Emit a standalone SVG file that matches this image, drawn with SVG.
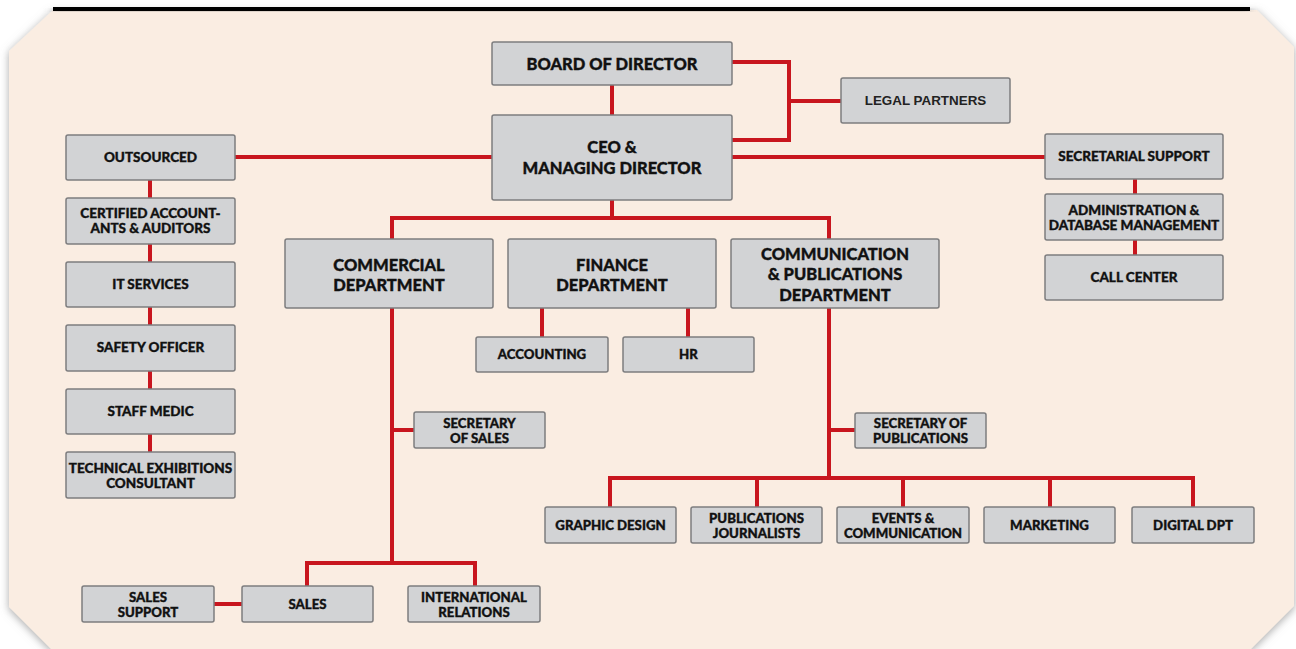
<svg xmlns="http://www.w3.org/2000/svg" width="1296" height="649" viewBox="0 0 1296 649">
<style>
.bx{fill:#d2d3d5;stroke:#7d7d7f;stroke-width:1.5}
.t{font-family:Lato,"Liberation Sans",sans-serif;font-weight:900;fill:#111;stroke:#111;stroke-width:0.35;text-anchor:middle}
.l{font-size:16.5px}
.m{font-size:13.5px}
.s{font-size:13.2px}
.h{font-family:"Liberation Sans",Arial,sans-serif;font-weight:bold;fill:#222;text-anchor:middle;font-size:13.4px}
.c{fill:none;stroke:#c8161e;stroke-width:4}
</style>
<defs>
<filter id="sh" x="-5%" y="-20%" width="110%" height="140%">
<feGaussianBlur in="SourceAlpha" stdDeviation="4"/>
<feOffset dx="0" dy="2" result="b"/>
<feFlood flood-color="#7a7a7a" flood-opacity="0.65"/>
<feComposite in2="b" operator="in"/>
<feMerge><feMergeNode/><feMergeNode in="SourceGraphic"/></feMerge>
</filter>
</defs>
<rect width="1296" height="649" fill="#ffffff"/>
<g id="background">
<path d="M53,10 H1257 L1294,47 V606 L1251,649 H51 L9,607 V51 Z" fill="#faede2" filter="url(#sh)"/>
<rect x="53" y="7" width="1197" height="4" fill="#000" filter="url(#sh)"/>
</g>
<g id="connectors">
<path class="c" d="M612,85 V115"/>
<path class="c" d="M732,62 H789 V140 H732"/>
<path class="c" d="M789,101 H841"/>
<path class="c" d="M235,157 H492"/>
<path class="c" d="M732,157 H1045"/>
<path class="c" d="M612,200 V218"/>
<path class="c" d="M392,239 V218 H829 V239"/>
<path class="c" d="M392,308 V563"/>
<path class="c" d="M307,586 V563 H475 V586"/>
<path class="c" d="M392,430 H414"/>
<path class="c" d="M542,308 V337"/>
<path class="c" d="M688,308 V337"/>
<path class="c" d="M829,308 V478"/>
<path class="c" d="M829,430 H855"/>
<path class="c" d="M610,507 V478 H1193 V507"/>
<path class="c" d="M757,478 V507"/>
<path class="c" d="M903,478 V507"/>
<path class="c" d="M1050,478 V507"/>
<path class="c" d="M214,604 H242" stroke-width="5"/>
<path class="c" d="M150,180 V198 M150,244 V262 M150,307 V325 M150,371 V389 M150,434 V452"/>
<path class="c" d="M1135,179 V194 M1135,240 V255"/>
</g>
<g id="board"><rect class="bx" x="492" y="42" width="240" height="43" rx="2"/><text class="t l" x="612" y="70">BOARD OF DIRECTOR</text></g>
<g id="ceo"><rect class="bx" x="492" y="115" width="240" height="85" rx="2"/><text class="t l" x="612" y="153">CEO &amp;</text><text class="t l" x="612" y="174">MANAGING DIRECTOR</text></g>
<g id="legal"><rect class="bx" x="841" y="78" width="169" height="45" rx="2"/><text class="h" x="925.5" y="105">LEGAL PARTNERS</text></g>
<g id="outsourced"><rect class="bx" x="66" y="135" width="169" height="45" rx="2"/><text class="t m" x="150.5" y="162">OUTSOURCED</text></g>
<g id="certified"><rect class="bx" x="66" y="198" width="169" height="46" rx="2"/><text class="t m" x="150.5" y="218">CERTIFIED ACCOUNT-</text><text class="t m" x="150.5" y="233">ANTS &amp; AUDITORS</text></g>
<g id="it"><rect class="bx" x="66" y="262" width="169" height="45" rx="2"/><text class="t m" x="150.5" y="289">IT SERVICES</text></g>
<g id="safety"><rect class="bx" x="66" y="325" width="169" height="46" rx="2"/><text class="t m" x="150.5" y="352">SAFETY OFFICER</text></g>
<g id="medic"><rect class="bx" x="66" y="389" width="169" height="45" rx="2"/><text class="t m" x="150.5" y="416">STAFF MEDIC</text></g>
<g id="technical"><rect class="bx" x="66" y="452" width="169" height="46" rx="2"/><text class="t m" x="150.5" y="473">TECHNICAL EXHIBITIONS</text><text class="t m" x="150.5" y="488">CONSULTANT</text></g>
<g id="secretarial"><rect class="bx" x="1045" y="134" width="178" height="45" rx="2"/><text class="t m" x="1134" y="161">SECRETARIAL SUPPORT</text></g>
<g id="admin"><rect class="bx" x="1045" y="194" width="178" height="46" rx="2"/><text class="t m" x="1134" y="215">ADMINISTRATION &amp;</text><text class="t m" x="1134" y="230">DATABASE MANAGEMENT</text></g>
<g id="callcenter"><rect class="bx" x="1045" y="255" width="178" height="45" rx="2"/><text class="t m" x="1134" y="282">CALL CENTER</text></g>
<g id="commercial"><rect class="bx" x="285" y="239" width="208" height="69" rx="2"/><text class="t l" x="389" y="271">COMMERCIAL</text><text class="t l" x="389" y="291">DEPARTMENT</text></g>
<g id="finance"><rect class="bx" x="508" y="239" width="208" height="69" rx="2"/><text class="t l" x="612" y="271">FINANCE</text><text class="t l" x="612" y="291">DEPARTMENT</text></g>
<g id="communication"><rect class="bx" x="731" y="239" width="208" height="69" rx="2"/><text class="t l" x="835" y="260">COMMUNICATION</text><text class="t l" x="835" y="280">&amp; PUBLICATIONS</text><text class="t l" x="835" y="301">DEPARTMENT</text></g>
<g id="accounting"><rect class="bx" x="476" y="337" width="132" height="35" rx="2"/><text class="t s" x="542" y="359">ACCOUNTING</text></g>
<g id="hr"><rect class="bx" x="623" y="337" width="131" height="35" rx="2"/><text class="t s" x="688.5" y="359">HR</text></g>
<g id="secsales"><rect class="bx" x="414" y="412" width="131" height="36" rx="2"/><text class="t s" x="479.5" y="428">SECRETARY</text><text class="t s" x="479.5" y="443">OF SALES</text></g>
<g id="secpub"><rect class="bx" x="855" y="413" width="131" height="35" rx="2"/><text class="t s" x="920.5" y="428">SECRETARY OF</text><text class="t s" x="920.5" y="443">PUBLICATIONS</text></g>
<g id="graphic"><rect class="bx" x="545" y="507" width="131" height="36" rx="2"/><text class="t s" x="610.5" y="530">GRAPHIC DESIGN</text></g>
<g id="pubjour"><rect class="bx" x="691" y="507" width="131" height="36" rx="2"/><text class="t s" x="756.5" y="523">PUBLICATIONS</text><text class="t s" x="756.5" y="538">JOURNALISTS</text></g>
<g id="events"><rect class="bx" x="837" y="507" width="132" height="36" rx="2"/><text class="t s" x="903" y="523">EVENTS &amp;</text><text class="t s" x="903" y="538">COMMUNICATION</text></g>
<g id="marketing"><rect class="bx" x="984" y="507" width="131" height="36" rx="2"/><text class="t s" x="1049.5" y="530">MARKETING</text></g>
<g id="digital"><rect class="bx" x="1132" y="507" width="122" height="36" rx="2"/><text class="t s" x="1193" y="530">DIGITAL DPT</text></g>
<g id="salessupport"><rect class="bx" x="82" y="586" width="132" height="36" rx="2"/><text class="t s" x="148" y="602">SALES</text><text class="t s" x="148" y="617">SUPPORT</text></g>
<g id="sales"><rect class="bx" x="242" y="586" width="131" height="36" rx="2"/><text class="t s" x="307.5" y="609">SALES</text></g>
<g id="intl"><rect class="bx" x="408" y="586" width="132" height="36" rx="2"/><text class="t s" x="474" y="602">INTERNATIONAL</text><text class="t s" x="474" y="617">RELATIONS</text></g>
</svg>
